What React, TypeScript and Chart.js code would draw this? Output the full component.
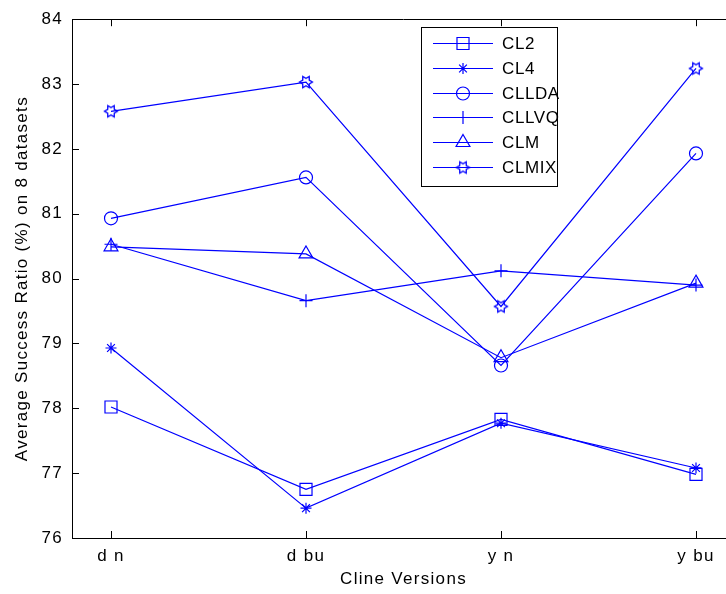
import React, { useEffect, useRef } from 'react';
import { Chart, registerables } from 'chart.js';
import { drawPoint } from 'chart.js/helpers';

Chart.register(...registerables);

// Categories along the x axis
const categories = ['d n', 'd bu', 'y n', 'y bu'];

// Average success ratio (%) per cline version
const cl2 = [78.02, 76.75, 77.83, 76.98];
const cl4 = [78.93, 76.46, 77.77, 77.08];
const cllda = [80.93, 81.56, 78.66, 81.93];
const cllvq = [80.53, 79.66, 80.12, 79.9];
const clm = [80.49, 80.38, 78.78, 79.93];
const clmix = [82.58, 83.03, 79.57, 83.24];

const seriesLabels = ['CL2', 'CL4', 'CLLDA', 'CLLVQ', 'CLM', 'CLMIX'];

// Value axis range
const yMin = 76;
const yMax = 84;

const BLUE = '#0000ff';
const FONT = '"Liberation Sans", Arial, Helvetica, sans-serif';
const CANVAS_W = 760;
const CANVAS_H = 594;

function makeHexagram(): HTMLCanvasElement {
  const c = document.createElement('canvas');
  c.width = 16;
  c.height = 16;
  const g = c.getContext('2d')!;
  g.strokeStyle = BLUE;
  g.lineWidth = 1.3;
  const cx = 8;
  const cy = 8;
  const R = 6.5;
  const r = R / Math.sqrt(3);
  g.beginPath();
  for (let i = 0; i < 12; i++) {
    const a = (i * Math.PI) / 6;
    const rad = i % 2 === 0 ? R : r;
    const px = cx + Math.cos(a) * rad;
    const py = cy + Math.sin(a) * rad;
    if (i === 0) g.moveTo(px, py);
    else g.lineTo(px, py);
  }
  g.closePath();
  g.stroke();
  return c;
}

const insideTicks = {
  id: 'insideTicks',
  beforeDraw(chart: any) {
    chart.ctx.letterSpacing = '1.3px';
  },
  afterDraw(chart: any) {
    const { ctx, chartArea } = chart;
    const xs = chart.scales.x;
    const ys = chart.scales.y;
    const len = 7;
    ctx.save();
    ctx.strokeStyle = '#000';
    ctx.lineWidth = 1;
    ctx.beginPath();
    // top frame line
    ctx.moveTo(chartArea.left, Math.round(chartArea.top) + 0.5);
    ctx.lineTo(chartArea.right, Math.round(chartArea.top) + 0.5);
    xs.ticks.forEach((t: any) => {
      const px = Math.round(xs.getPixelForValue(t.value)) + 0.5;
      ctx.moveTo(px, chartArea.bottom);
      ctx.lineTo(px, chartArea.bottom - len);
      ctx.moveTo(px, chartArea.top);
      ctx.lineTo(px, chartArea.top + len);
    });
    ys.ticks.forEach((t: any) => {
      const py = Math.round(ys.getPixelForValue(t.value)) + 0.5;
      ctx.moveTo(chartArea.left, py);
      ctx.lineTo(chartArea.left + len, py);
    });
    ctx.stroke();
    ctx.restore();
  },
};

const boxLegend = {
  id: 'boxLegend',
  afterDraw(chart: any) {
    const ctx = chart.ctx;
    const bx = 421;
    const by = 27;
    const bw = 136;
    const bh = 159;
    const firstRow = 43;
    const rowGap = 24.8;
    ctx.save();
    ctx.letterSpacing = '0.6px';
    ctx.fillStyle = '#fff';
    ctx.fillRect(bx, by, bw, bh);
    ctx.strokeStyle = '#000';
    ctx.lineWidth = 1;
    ctx.strokeRect(bx + 0.5, by + 0.5, bw, bh);
    chart.data.datasets.forEach((ds: any, i: number) => {
      const y = Math.round(firstRow + i * rowGap) + 0.5;
      ctx.strokeStyle = BLUE;
      ctx.lineWidth = 1.2;
      ctx.beginPath();
      ctx.moveTo(433, y);
      ctx.lineTo(493, y);
      ctx.stroke();
      ctx.fillStyle = 'rgba(0,0,0,0)';
      drawPoint(
        ctx,
        { pointStyle: ds.pointStyle, radius: ds.pointRadius, rotation: 0, borderWidth: 1.2 },
        463,
        y
      );
      ctx.fillStyle = '#000';
      ctx.font = `17px ${FONT}`;
      ctx.textAlign = 'left';
      ctx.textBaseline = 'middle';
      ctx.fillText(ds.label, 502, y + 1);
    });
    ctx.restore();
  },
};

export default function App() {
  const ref = useRef<HTMLCanvasElement | null>(null);

  useEffect(() => {
    if (!ref.current) return;
    const hex = makeHexagram();
    const values = [cl2, cl4, cllda, cllvq, clm, clmix];
    const styles: any[] = ['rect', 'star', 'circle', 'cross', 'triangle', hex];
    const radii = [8.5, 5.5, 6.5, 6.5, 8, 7];

    const datasets = values.map((vals, i) => ({
      label: seriesLabels[i],
      data: vals.map((v, j) => ({ x: j + 1, y: v })),
      borderColor: BLUE,
      borderWidth: 1.2,
      pointStyle: styles[i],
      pointRadius: radii[i],
      pointBorderColor: BLUE,
      pointBackgroundColor: 'rgba(0,0,0,0)',
      pointBorderWidth: 1.2,
      tension: 0,
      fill: false,
    }));

    const chart = new Chart(ref.current, {
      type: 'line',
      data: { datasets },
      options: {
        animation: false,
        responsive: false,
        devicePixelRatio: 1,
        layout: { padding: { left: 0, top: 16, right: 25, bottom: 0 } },
        plugins: { legend: { display: false }, tooltip: { enabled: false } },
        scales: {
          x: {
            type: 'linear',
            min: 0.8,
            max: 4.2,
            afterBuildTicks: (s: any) => {
              s.ticks = categories.map((_, i) => ({ value: i + 1 }));
            },
            afterFit: (s: any) => {
              s.height = 56;
            },
            grid: { display: false, drawTicks: false },
            border: { display: true, color: '#000', width: 1 },
            ticks: {
              color: '#000',
              font: { family: FONT, size: 17 },
              padding: 8,
              maxRotation: 0,
              autoSkip: false,
              callback: (v: any) => categories[Number(v) - 1] ?? '',
            },
            title: {
              display: true,
              text: 'Cline Versions',
              color: '#000',
              font: { family: FONT, size: 17 },
              padding: { top: 0, bottom: 4 },
            },
          },
          y: {
            min: yMin,
            max: yMax,
            afterFit: (s: any) => {
              s.width = 72;
            },
            grid: { display: false, drawTicks: false },
            border: { display: true, color: '#000', width: 1 },
            ticks: {
              stepSize: 1,
              color: '#000',
              font: { family: FONT, size: 17 },
              padding: 9,
            },
            title: {
              display: true,
              text: 'Average Success Ratio (%) on 8 datasets',
              color: '#000',
              font: { family: FONT, size: 17 },
              padding: { top: 12, bottom: 0 },
            },
          },
        },
      },
      plugins: [insideTicks, boxLegend],
    } as any);

    return () => chart.destroy();
  }, []);

  return (
    <canvas
      ref={ref}
      width={CANVAS_W}
      height={CANVAS_H}
      style={{ position: 'fixed', left: 0, top: 0, width: CANVAS_W, height: CANVAS_H, background: '#fff' }}
    />
  );
}
